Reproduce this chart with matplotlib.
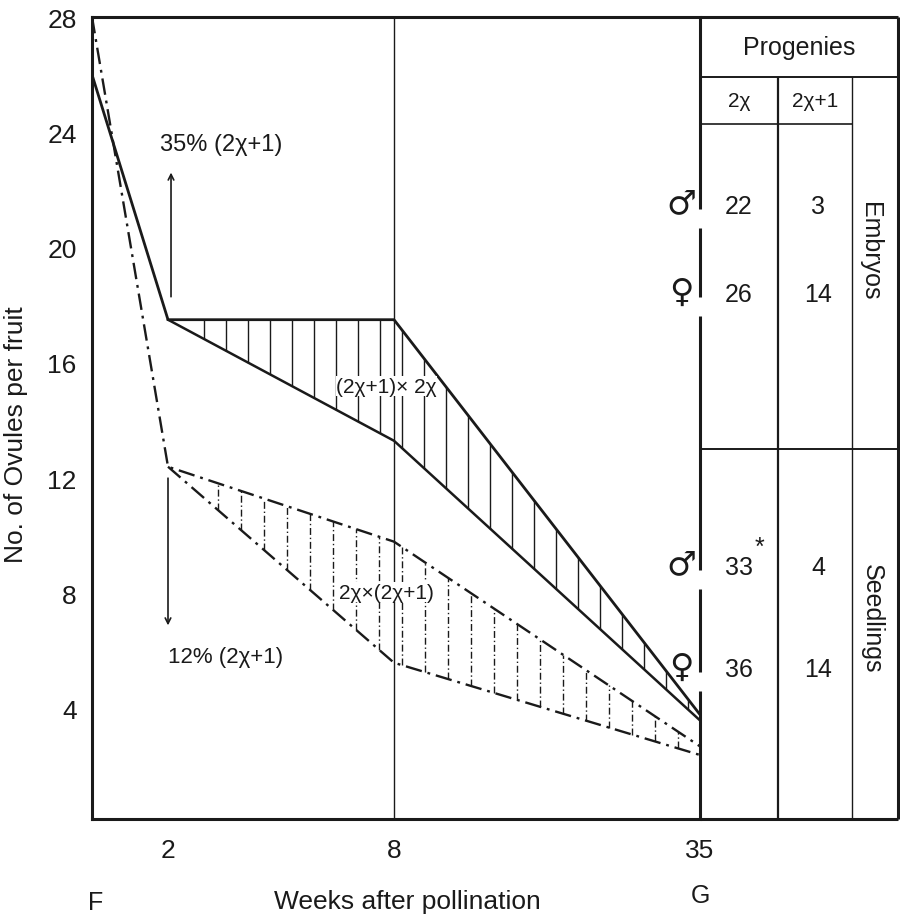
import numpy as np
import matplotlib
matplotlib.use("Agg")
import matplotlib.pyplot as plt

plt.rcParams['font.family'] = ['Liberation Sans', 'DejaVu Sans']

# ---------------------------------------------------------------
# data
# ---------------------------------------------------------------
# x axis: weeks after pollination, drawn on an uneven scale
WK_KNOTS = [0, 2, 8, 35]
PX_KNOTS = [0, 76, 302, 608]
x_ticks = [2, 8, 35]

# 2x+1 (female) x 2x  -> solid envelope
solid_up_w = [0, 2, 8, 35]
solid_up_y = [26.0, 17.5, 17.5, 3.8]
solid_lo_w = [2, 8, 35]
solid_lo_y = [17.5, 13.3, 3.6]

# 2x x 2x+1 (male) -> dash-dot envelope
dd_up_w = [0, 2, 8, 35]
dd_up_y = [28.0, 12.4, 9.8, 2.7]
dd_lo_w = [2, 8, 35]
dd_lo_y = [12.4, 5.6, 2.4]

y_ticks = [4, 8, 12, 16, 20, 24, 28]

# progenies table
prog_cols = ['2χ', '2χ+1']
embryo_male = [22, 3]
embryo_female = [26, 14]
seed_male = [33, 4]
seed_female = [36, 14]

INK = '#1a1a1a'
DD = (0, (7, 2.5, 1.2, 2.5))


def fwd(w):
    return np.interp(np.asarray(w, float), WK_KNOTS, PX_KNOTS)


def inv(p):
    return np.interp(np.asarray(p, float), PX_KNOTS, WK_KNOTS)


fig = plt.figure(figsize=(9, 9.2), dpi=100)
ax = fig.add_axes([92 / 900, 100 / 920, 608 / 900, 802 / 920])
ax.set_xscale('function', functions=(fwd, inv))
ax.set_xlim(0, 35)
ax.set_ylim(0.18, 28)

# envelopes
ax.plot(solid_up_w, solid_up_y, color=INK, lw=2.0)
ax.plot(solid_lo_w, solid_lo_y, color=INK, lw=1.8)
ax.plot(dd_up_w, dd_up_y, color=INK, lw=1.7, linestyle=DD)
ax.plot(dd_lo_w, dd_lo_y, color=INK, lw=1.7, linestyle=DD)

# vertical hatching inside the envelopes
hx = inv(np.arange(112, 604, 22))
ax.vlines(hx, np.interp(hx, solid_lo_w, solid_lo_y),
          np.interp(hx, solid_up_w, solid_up_y), color=INK, lw=1.0)
dx = inv(np.arange(126, 600, 23))
ax.vlines(dx, np.interp(dx, dd_lo_w, dd_lo_y),
          np.interp(dx, dd_up_w, dd_up_y), color=INK, lw=1.0,
          linestyles=[(0, (5, 2, 1, 2))])

# week 8 guide line
ax.axvline(8, color=INK, lw=1.0)

# arrows and notes
ax.annotate('', xy=(2.08, 22.7), xytext=(2.08, 18.2),
            arrowprops=dict(arrowstyle='->', color=INK, lw=1.2))
ax.text(1.8, 23.6, '35% (2χ+1)', fontsize=17, color=INK, va='center')
ax.annotate('', xy=(2.0, 6.8), xytext=(2.0, 12.1),
            arrowprops=dict(arrowstyle='->', color=INK, lw=1.2))
ax.text(2.0, 5.8, '12% (2χ+1)', fontsize=16, color=INK, va='center')

box = dict(facecolor='white', edgecolor='none', pad=0.5)
ax.text(7.8, 15.2, '(2χ+1)× 2χ', fontsize=15, color=INK, ha='center',
        va='center', bbox=box)
ax.text(7.8, 8.05, '2χ×(2χ+1)', fontsize=15, color=INK, ha='center',
        va='center', bbox=box)

# axes styling
ax.set_yticks(y_ticks)
ax.set_xticks(x_ticks)
ax.tick_params(length=0, labelsize=19, colors=INK)
ax.tick_params(axis='x', pad=14)
ax.tick_params(axis='y', pad=11)
ax.set_ylabel('No. of Ovules per fruit', fontsize=19, color=INK)
ax.yaxis.set_label_coords(-0.105, 0.48)
ax.spines['right'].set_visible(False)
for s in ('left', 'bottom', 'top'):
    ax.spines[s].set_linewidth(2.2)
    ax.spines[s].set_color(INK)

fig.text(88 / 900, 1 - 903 / 920, 'F', fontsize=18, color=INK, ha='left', va='center')
fig.text(407 / 900, 1 - 902 / 920, 'Weeks after pollination', fontsize=19,
         color=INK, ha='center', va='center')
fig.text(700 / 900, 1 - 896 / 920, 'G', fontsize=18, color=INK, ha='center', va='center')

# ---------------------------------------------------------------
# progenies table (pixel units, y grows downward)
# ---------------------------------------------------------------
tx = fig.add_axes([700 / 900, 100 / 920, 198 / 900, 802 / 920])
tx.set_xlim(0, 198)
tx.set_ylim(802, 0)
tx.axis('off')

c1, c2, W = 78, 152, 198
r_head, r_sub, r_mid, H = 60, 107, 432, 802
row_y = {'em_m': 189, 'em_f': 277, 'se_m': 550, 'se_f': 652}

tk = dict(color=INK, solid_capstyle='butt', clip_on=False)
tx.plot([0, W], [0, 0], lw=2.2, **tk)
tx.plot([0, W], [H, H], lw=2.2, **tk)
tx.plot([W, W], [0, H], lw=2.2, **tk)
tx.plot([0, W], [r_head, r_head], lw=1.4, **tk)
tx.plot([0, c2], [r_sub, r_sub], lw=1.2, **tk)
tx.plot([0, W], [r_mid, r_mid], lw=1.4, **tk)
tx.plot([c1, c1], [r_head, H], lw=1.6, **tk)
tx.plot([c2, c2], [r_head, H], lw=1.0, **tk)

# 35-week line with gaps next to the sex symbols
gaps = sorted(row_y.values())
segs = [0]
for g in gaps:
    segs += [g + 3, g + 22]
segs.append(H)
for a, b in zip(segs[::2], segs[1::2]):
    tx.plot([0, 0], [a, b], lw=2.2, **tk)

tfont = dict(color=INK, ha='center', va='center')
tx.text(W / 2, r_head / 2, 'Progenies', fontsize=18, **tfont)
tx.text(c1 / 2, (r_head + r_sub) / 2, prog_cols[0], fontsize=15, **tfont)
tx.text((c1 + c2) / 2, (r_head + r_sub) / 2, prog_cols[1], fontsize=15, **tfont)

rows = [('em_m', embryo_male, '♂'), ('em_f', embryo_female, '♀'),
        ('se_m', seed_male, '♂'), ('se_f', seed_female, '♀')]
for key, vals, sym in rows:
    y = row_y[key]
    tx.text(c1 / 2, y, str(vals[0]), fontsize=18, **tfont)
    tx.text((c1 + c2) / 2 + 3, y, str(vals[1]), fontsize=18, **tfont)
    tx.text(-19, y - 3, sym, fontsize=24, family='DejaVu Sans', clip_on=False,
            **tfont)
tx.text(c1 / 2 + 20, row_y['se_m'] - 20, '*', fontsize=18, **tfont)

tx.text(170, (row_y['em_m'] + row_y['em_f']) / 2, 'Embryos',
        fontsize=18, rotation=270, **tfont)
tx.text(172, (row_y['se_m'] + row_y['se_f']) / 2, 'Seedlings',
        fontsize=18, rotation=270, **tfont)

fig.savefig('out.png', dpi=100, facecolor='white')
